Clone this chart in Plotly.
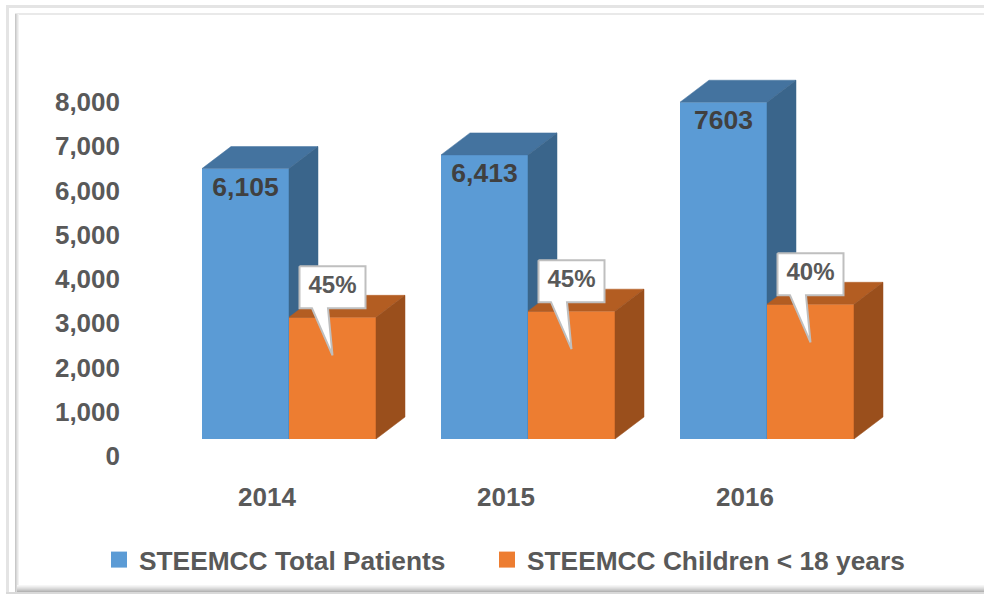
import plotly.graph_objects as go

# ---- data ----
years = ["2014", "2015", "2016"]
total_patients = [6105, 6413, 7603]
total_labels = ["6,105", "6,413", "7603"]
children = [2747, 2886, 3041]
children_labels = ["45%", "45%", "40%"]
y_ticks = [0, 1000, 2000, 3000, 4000, 5000, 6000, 7000, 8000]
series_names = ["STEEMCC Total Patients", "STEEMCC Children < 18 years"]

# ---- geometry / style ----
W, H = 984, 595
FONT = "Liberation Sans, Arial, sans-serif"
GREY, DARK = "#595959", "#404040"
BLUE, BLUE_TOP, BLUE_SIDE = "#5B9BD5", "#44739F", "#3A658B"
ORANGE, ORANGE_TOP, ORANGE_SIDE = "#ED7D31", "#B35D22", "#9A4F1C"

SP = 239.0                 # px per category
XPAD = 121.0               # left of plot
ZERO_PX = 289.0            # px of first boundary
PX_PER_K = 44.3
Y0_PX = 439.0
BOTTOM_PX = 479.0
LABEL_Y0_PX, LABEL_PER_K = 456.0, 44.25

x_range = [(XPAD - ZERO_PX) / SP, (W - ZERO_PX) / SP]
y_range = [-(BOTTOM_PX - Y0_PX) / PX_PER_K * 1000, Y0_PX / PX_PER_K * 1000]
y3_range = [-(BOTTOM_PX - LABEL_Y0_PX) / LABEL_PER_K * 1000, LABEL_Y0_PX / LABEL_PER_K * 1000]
x_domain = [XPAD / W, 1]
y_domain = [(H - BOTTOM_PX) / H, 1]

BW = 87 / SP
DX = 29 / SP
DY = 22 / PX_PER_K * 1000
ux = 1 / SP
uy = 1000 / PX_PER_K


def faces(x_left, value):
    x_r = x_left + BW
    top = ([x_left, x_left + DX, x_r + DX, x_r, x_left], [value, value + DY, value + DY, value, value])
    side = ([x_r, x_r + DX, x_r + DX, x_r, x_r], [0, DY, value + DY, value, 0])
    return top, side


def poly(xs, ys, color, xa, ya):
    return go.Scatter(x=xs, y=ys, xaxis=xa, yaxis=ya, mode="lines", fill="toself", fillcolor=color,
                      line=dict(color=color, width=0.5), showlegend=False, hoverinfo="skip")


fig = go.Figure()

# blue series (lower subplot)
xs = list(range(len(years)))
fig.add_trace(go.Bar(x=xs, y=total_patients, width=BW, offset=-BW, marker_color=BLUE, marker_line_width=0,
                     text=total_labels, textposition="inside", insidetextanchor="end", textangle=0,
                     constraintext="none",
                     textfont=dict(family=FONT, size=26.5, color=DARK, weight="bold"),
                     xaxis="x", yaxis="y", showlegend=False))
for i, v in enumerate(total_patients):
    top, side = faces(i - BW, v)
    fig.add_trace(poly(*top, BLUE_TOP, "x", "y"))
    fig.add_trace(poly(*side, BLUE_SIDE, "x", "y"))

# invisible carrier of the value-axis labels
fig.add_trace(go.Scatter(x=[0, 0], y=[y_ticks[0], y_ticks[-1]], xaxis="x", yaxis="y3", mode="markers",
                         marker=dict(opacity=0), showlegend=False, hoverinfo="skip"))

# orange series (upper overlay subplot)
fig.add_trace(go.Bar(x=xs, y=children, width=BW, offset=0, marker_color=ORANGE, marker_line_width=0,
                     xaxis="x2", yaxis="y2", showlegend=False))
for i, v in enumerate(children):
    top, side = faces(i, v)
    fig.add_trace(poly(*top, ORANGE_TOP, "x2", "y2"))
    fig.add_trace(poly(*side, ORANGE_SIDE, "x2", "y2"))

# callouts anchored on the orange bars
for i, (v, lab) in enumerate(zip(children, children_labels)):
    l, r = i + 10.5 * ux, i + 76.5 * ux
    t, b = v + 51 * uy, v + 9 * uy
    cx = [l, r, r, i + 39 * ux, i + 43.5 * ux, i + 23 * ux, l, l]
    cy = [t, t, b, b, v - 38 * uy, b, b, t]
    fig.add_trace(go.Scatter(x=cx, y=cy, xaxis="x2", yaxis="y2", mode="lines", fill="toself",
                             fillcolor="white", line=dict(color="#BFBFBF", width=2),
                             showlegend=False, hoverinfo="skip"))
    fig.add_trace(go.Scatter(x=[(l + r) / 2], y=[(t + b) / 2], xaxis="x2", yaxis="y2", mode="text",
                             text=[lab], textposition="middle center",
                             textfont=dict(family=FONT, size=24, color=GREY, weight="bold"),
                             showlegend=False, hoverinfo="skip"))

# legend entries (one legend per entry, each placed on its own)
for name, col, leg in zip(series_names, [BLUE, ORANGE], ["legend", "legend2"]):
    fig.add_trace(go.Scatter(x=[None], y=[None], xaxis="x2", yaxis="y2", mode="markers", name=name,
                             legend=leg, showlegend=True,
                             marker=dict(symbol="square", size=16, color=col)))

# frame
shapes = []


def rect(x0, y0, x1, y1, color):
    shapes.append(dict(type="rect", xref="paper", yref="paper", layer="below",
                       x0=x0 / W, x1=x1 / W, y0=1 - y0 / H, y1=1 - y1 / H,
                       line_width=0, fillcolor=color))


rect(6, 5, W, 8, "#E4E4E4")        # outer top
rect(6, 5, 9, 593, "#E4E4E4")      # outer left
rect(15, 13, W, 15, "#E9E9E9")     # inner top
for k, c in enumerate(["#C8C8C8", "#D8D8D8", "#E6E6E6", "#F2F2F2"]):
    rect(15 + k, 14, 16 + k, 592, c)
for k, c in enumerate(["#F6F6F6", "#EEEEEE", "#E4E4E4", "#DADADA", "#CECECE", "#C2C2C2", "#B4B4B4"]):
    rect(17, 585 + k, W, 586 + k, c)
rect(6, 592, W, 594, "#D9D9D9")

tick_font = dict(family=FONT, size=26, color=GREY, weight="bold")
hidden = dict(showgrid=False, zeroline=False, showline=False, showticklabels=False, ticks="")
legend_font = dict(family=FONT, size=26.3, color=GREY, weight="bold")


def legend_at(px):
    return dict(x=px / W, xanchor="left", y=1 - 560 / H, yanchor="middle", itemsizing="trace",
                font=legend_font, bgcolor="rgba(0,0,0,0)")


fig.update_layout(
    width=W, height=H, margin=dict(l=0, r=0, t=0, b=0),
    paper_bgcolor="white", plot_bgcolor="rgba(0,0,0,0)",
    barmode="overlay", shapes=shapes, hovermode=False,
    font=dict(family=FONT, color=GREY),
    xaxis=dict(domain=x_domain, range=x_range, anchor="y", showgrid=False, zeroline=False, showline=False,
               tickmode="array", tickvals=[i - 0.092 for i in xs], ticktext=years, tickfont=tick_font, ticks=""),
    yaxis=dict(domain=y_domain, range=y_range, anchor="x", **hidden),
    xaxis2=dict(domain=x_domain, range=x_range, anchor="y2", overlaying="x", **hidden),
    yaxis2=dict(domain=y_domain, range=y_range, anchor="x2", overlaying="y", **hidden),
    yaxis3=dict(domain=y_domain, range=y3_range, anchor="x", overlaying="y", showgrid=False, zeroline=False,
                showline=False, tickmode="array", tickvals=y_ticks, tickformat=",d", tickfont=tick_font, ticks=""),
    legend=legend_at(99),
    legend2=legend_at(487),
)

fig.write_html("out.html", config=dict(displayModeBar=False),
               post_script="document.body.style.margin='0';")
